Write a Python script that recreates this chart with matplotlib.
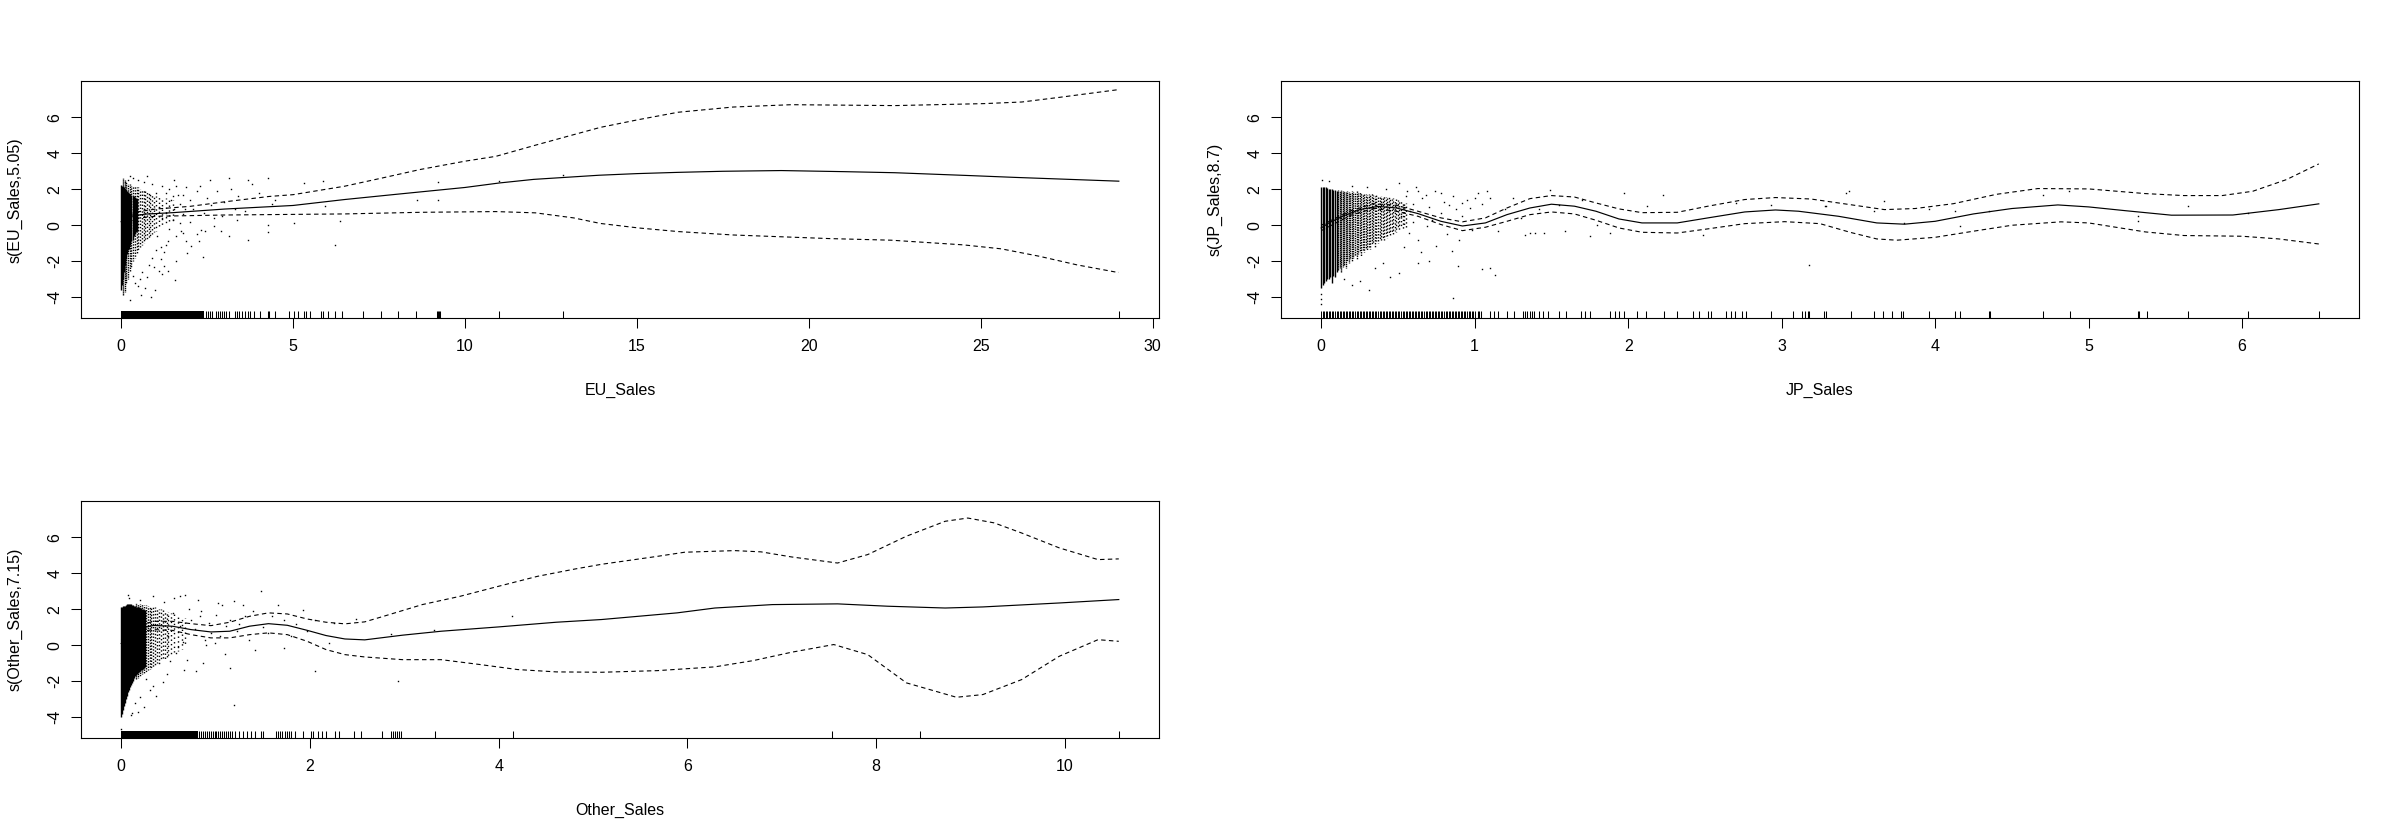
import numpy as np
import matplotlib
matplotlib.use("Agg")
import matplotlib.pyplot as plt
from matplotlib.patches import Rectangle

plt.rcParams['font.family'] = ['Liberation Sans', 'DejaVu Sans']

# ---------------- data ----------------
y_ticks = [-4, -2, 0, 2, 4, 6]

# EU panel
eu_fit_x = [0, 0.3, 0.7, 1.5, 3.0, 5.0, 6.5, 8.0, 10.0, 11.0, 12.0, 13.9, 15.0, 16.2, 17.5, 19.2, 21.0, 22.5, 24.7, 26.0, 27.3, 29.02]
eu_fit_y = [0.2, 0.5, 0.62, 0.7, 0.9, 1.1, 1.43, 1.72, 2.1, 2.35, 2.55, 2.78, 2.87, 2.94, 3.0, 3.04, 2.98, 2.92, 2.76, 2.66, 2.57, 2.45]
eu_up_x = [0, 0.5, 1.0, 2.0, 3.0, 4.3, 5.0, 6.5, 7.6, 8.7, 10.0, 10.9, 12.05, 13.0, 13.94, 15.05, 16.2, 17.8, 19.5, 22.5, 25.1, 26.2, 27.3, 29.02]
eu_up_y = [0.4, 0.75, 0.9, 1.05, 1.3, 1.6, 1.7, 2.17, 2.63, 3.1, 3.56, 3.83, 4.45, 4.95, 5.44, 5.87, 6.28, 6.57, 6.7, 6.65, 6.76, 6.85, 7.11, 7.54]
eu_lo_x = [0, 0.5, 1.0, 3.0, 6.5, 8.7, 10.9, 12.05, 13.16, 13.94, 15.05, 16.2, 17.8, 20.6, 22.4, 24.5, 25.6, 26.7, 27.8, 28.9, 29.02]
eu_lo_y = [0.0, 0.4, 0.5, 0.57, 0.63, 0.72, 0.76, 0.69, 0.41, 0.1, -0.15, -0.35, -0.54, -0.74, -0.83, -1.09, -1.31, -1.72, -2.2, -2.59, -2.62]
eu_core_x = [0.00, 0.03, 0.06, 0.09, 0.12, 0.15, 0.18, 0.21, 0.24, 0.27, 0.30, 0.33, 0.36, 0.39, 0.42, 0.45]
eu_core_lo = [-3.6, -3.3, -3.0, -2.6, -2.2, -1.9, -1.6, -1.4, -1.3, -1.1, -0.9, -0.8, -0.6, -0.5, -0.4, -0.3]
eu_core_hi = [2.25, 2.2, 2.2, 2.1, 2.0, 1.95, 1.9, 1.85, 1.8, 1.75, 1.7, 1.65, 1.6, 1.55, 1.5, 1.45]
eu_spread_x = [0.05, 0.1, 0.15, 0.2, 0.25, 0.3, 0.35, 0.4, 0.45, 0.5, 0.55, 0.6, 0.65, 0.7, 0.75, 0.8, 0.85, 0.9, 0.95, 1.0, 1.1, 1.2, 1.3, 1.4, 1.5]
eu_spread_lo = [-3.9, -3.7, -3.2, -3.0, -2.6, -2.3, -2.0, -1.8, -1.6, -1.4, -1.2, -1.1, -1.0, -0.9, -0.8, -0.7, -0.6, -0.5, -0.4, -0.3, -0.2, -0.1, 0.0, 0.1, 0.2]
eu_spread_hi = [2.6, 2.5, 2.4, 2.3, 2.3, 2.2, 2.2, 2.2, 2.1, 2.1, 2.0, 2.0, 2.0, 1.9, 1.9, 1.8, 1.8, 1.7, 1.7, 1.6, 1.6, 1.5, 1.5, 1.4, 1.4]
eu_pts_x = [0.26, 0.76, 1.54, 2.59, 3.15, 3.7, 4.26, 5.32, 5.87, 9.21, 9.23, 8.6, 12.86, 10.99, 4.26, 4.26, 5.04, 6.37, 6.21, 3.7, 2.31, 2.43, 2.37, 1.92, 1.59, 1.26, 1.09, 1.37, 1.57, 0.98, 0.87, 0.59, 0.26, 0.48, 0.7, 3.15, 3.37, 2.93, 4.48, 5.93, 1.15, 2.04, 1.81, 2.26, 2.7,
            1.2, 1.3, 1.4, 1.5, 1.6, 1.7, 1.8, 1.9, 2.0, 2.1, 2.2, 2.3, 2.5, 2.6, 2.8, 3.0, 3.2, 3.4, 3.6, 3.8, 4.0, 4.4, 1.1, 1.2, 1.3, 1.4, 1.5, 1.6, 1.7, 1.8, 1.9, 2.0, 2.2, 2.4, 2.7, 2.9, 3.3, 1.0, 1.05, 1.15, 1.25, 1.35, 1.45, 1.55, 1.65, 1.75, 1.85,
            0.6, 0.8, 0.9, 0.55, 0.4, 0.35, 1.0, 0.75, 1.2, 1.3, 0.95, 0.1, 0.2, 0.35, 0.5, 0.65, 0.9]
eu_pts_y = [2.76, 2.76, 2.54, 2.54, 2.63, 2.54, 2.63, 2.35, 2.44, 2.39, 1.43, 1.43, 2.78, 2.44, 0.04, -0.37, 0.13, 0.22, -1.07, -0.8, -0.28, -0.33, -1.76, -1.54, -2.0, -2.28, -2.56, -2.56, -3.02, -3.57, -3.98, -3.85, -4.13, -3.39, -3.48, -0.61, 0.31, 0.5, 1.43, 1.06, -1.9, -1.17, -0.43, -0.89, -0.06,
            2.2, 1.8, 2.0, 1.6, 2.2, 1.2, 1.7, 2.1, 1.4, 0.9, 1.9, 2.2, 1.5, 1.1, 1.9, 1.3, 2.0, 1.6, 0.8, 2.3, 1.8, 1.2, 1.0, 0.4, 0.7, -0.2, 0.3, -0.6, 0.1, 0.6, -0.9, 0.2, -0.5, 0.7, 0.4, -0.3, 0.9, 1.8, -0.6, -1.2, -1.5, -0.9, 1.4, 0.9, 1.7, -0.3, 0.9,
            -2.6, -2.2, -1.8, -3.0, -3.2, -2.8, -1.4, -2.9, -2.7, -1.1, -2.3, 2.4, 2.5, 2.6, 2.5, 2.4, 2.3]
eu_rug_solid_end = 2.42
eu_rug_x = [2.48, 2.54, 2.59, 2.65, 2.76, 2.82, 2.87, 2.93, 2.99, 3.04, 3.15, 3.32, 3.37, 3.43, 3.52, 3.59, 3.68, 3.76, 3.87, 4.04, 4.26, 4.31, 4.48, 4.89, 5.04, 5.15, 5.32, 5.37, 5.48, 5.8, 5.87, 6.02, 6.21, 6.41, 7.04, 7.56, 8.04, 8.58, 9.19, 9.22, 9.24, 9.27, 10.99, 12.86, 29.02]

# JP panel
jp_fit_x = [0, 0.05, 0.14, 0.25, 0.37, 0.49, 0.63, 0.78, 0.92, 1.07, 1.21, 1.36, 1.5, 1.65, 1.79, 1.94, 2.09, 2.32, 2.52, 2.76, 2.96, 3.11, 3.37, 3.62, 3.8, 4.0, 4.25, 4.5, 4.8, 5.0, 5.24, 5.54, 5.94, 6.24, 6.5]
jp_fit_y = [-0.15, 0.13, 0.5, 0.87, 1.05, 0.96, 0.65, 0.22, -0.04, 0.13, 0.59, 0.96, 1.17, 1.06, 0.78, 0.35, 0.13, 0.13, 0.41, 0.74, 0.85, 0.78, 0.5, 0.13, 0.06, 0.22, 0.63, 0.93, 1.13, 1.02, 0.81, 0.56, 0.57, 0.87, 1.19]
jp_up_x = [0, 0.19, 0.34, 0.49, 0.63, 0.78, 0.92, 1.07, 1.21, 1.36, 1.5, 1.65, 1.79, 1.94, 2.09, 2.32, 2.52, 2.76, 2.96, 3.19, 3.37, 3.67, 3.87, 4.12, 4.4, 4.67, 5.0, 5.37, 5.62, 5.87, 6.07, 6.29, 6.5]
jp_up_y = [0.0, 0.8, 1.2, 1.11, 0.78, 0.41, 0.19, 0.41, 0.96, 1.48, 1.65, 1.57, 1.24, 0.91, 0.7, 0.72, 1.06, 1.43, 1.54, 1.46, 1.24, 0.87, 0.93, 1.2, 1.72, 2.04, 2.02, 1.76, 1.65, 1.65, 1.89, 2.54, 3.41]
jp_lo_x = [0, 0.19, 0.34, 0.49, 0.63, 0.78, 0.92, 1.07, 1.21, 1.36, 1.5, 1.65, 1.79, 1.94, 2.09, 2.32, 2.52, 2.76, 3.02, 3.25, 3.45, 3.62, 3.75, 4.0, 4.25, 4.5, 4.82, 5.0, 5.37, 5.62, 6.0, 6.24, 6.5]
jp_lo_y = [-0.3, 0.55, 0.93, 0.78, 0.5, 0.04, -0.3, -0.11, 0.22, 0.59, 0.74, 0.63, 0.28, -0.15, -0.39, -0.43, -0.2, 0.09, 0.2, 0.09, -0.4, -0.76, -0.83, -0.67, -0.33, 0.0, 0.19, 0.13, -0.37, -0.57, -0.61, -0.76, -1.04]
jp_core_x = [0.00, 0.01, 0.02, 0.03, 0.04, 0.05, 0.06, 0.07, 0.08, 0.09, 0.10]
jp_core_lo = [-3.5, -3.3, -3.2, -3.1, -3.0, -3.0, -2.9, -3.2, -2.8, -2.9, -2.6]
jp_core_hi = [2.15, 2.1, 2.1, 2.1, 2.05, 2.0, 2.0, 2.0, 1.95, 1.95, 1.9]
jp_spread_x = [0.11, 0.12, 0.13, 0.14, 0.15, 0.16, 0.17, 0.18, 0.19, 0.20,
               0.21, 0.22, 0.23, 0.24, 0.25, 0.26, 0.27, 0.28, 0.29, 0.30,
               0.31, 0.32, 0.33, 0.34, 0.35, 0.36, 0.37, 0.38, 0.39, 0.40,
               0.41, 0.42, 0.43, 0.44, 0.45, 0.46, 0.47, 0.48, 0.49, 0.50, 0.51, 0.52, 0.53, 0.54, 0.55]
jp_spread_lo = [-2.5, -2.4, -2.6, -2.3, -2.2, -2.4, -2.0, -2.1, -1.9, -2.0,
                -1.8, -1.7, -1.9, -1.6, -1.5, -1.7, -1.4, -1.5, -1.3, -1.4,
                -1.2, -1.3, -1.1, -1.0, -1.2, -0.9, -1.0, -0.8, -0.9, -0.7,
                -0.8, -0.6, -0.7, -0.5, -0.6, -0.4, -0.5, -0.3, -0.4, -0.2, -0.3, -0.1, -0.2, 0.0, -0.1]
jp_spread_hi = [1.95, 1.9, 1.95, 1.9, 1.9, 1.85, 1.9, 1.85, 1.8, 1.9,
                1.85, 1.8, 1.9, 1.8, 1.85, 1.8, 1.75, 1.8, 1.75, 1.7,
                1.75, 1.7, 1.8, 1.7, 1.65, 1.7, 1.6, 1.65, 1.6, 1.55,
                1.6, 1.55, 1.5, 1.55, 1.5, 1.45, 1.5, 1.4, 1.45, 1.4, 1.35, 1.4, 1.3, 1.3, 1.25]
jp_pts_x = [0.006, 0.05, 0.51, 0.63, 0.78, 0.86, 0.92, 1.02, 1.08, 1.1, 1.49, 1.97, 2.23, 2.12, 2.7, 2.93, 3.18, 2.49, 1.88, 1.8, 1.45, 1.59, 1.36, 1.33, 1.39, 1.1, 1.13, 1.05, 0.86, 0.89, 0.85, 0.63, 0.51, 0.31, 0.4, 0.63, 0.75, 0.78, 0.92, 0.97, 0.69, 0.57, 0.98, 3.42, 3.28, 3.44, 3.67, 3.6, 3.29, 4.13, 4.16, 4.35, 4.7, 4.87, 5.32, 5.32, 5.65, 6.04, 3.8, 3.96,
            0.55, 0.6, 0.58, 0.66, 0.7, 0.72, 0.8, 0.82, 0.88, 0.9, 0.95, 0.6, 0.65, 0.7, 0.54, 0.52, 0.56, 0.62, 0.68, 0.74, 0.83, 1.0, 1.05, 1.15, 1.2, 1.25, 1.3, 1.42, 1.55, 1.7, 1.75, 0.45, 0.35, 0.2, 0.15, 0.0, 0.0, 0.0, 0.25, 0.42, 0.3, 0.2]
jp_pts_y = [2.54, 2.44, 2.35, 1.89, 1.8, 1.61, 1.24, 1.8, 1.89, 1.52, 1.98, 1.8, 1.7, 1.06, 1.24, 1.11, -2.22, -0.52, -0.43, 0.04, -0.43, -0.33, -0.43, -0.52, -0.43, -2.37, -2.74, -2.43, -4.04, -2.28, -1.44, -2.09, -2.65, -3.57, -2.09, -0.8, -1.17, 0.69, 0.5, 0.96, -0.06, -0.43, -0.24, 1.8, 1.06, 1.89, 1.37, 0.78, 1.06, 0.78, -0.06, 0.78, 1.7, 1.89, 0.5, 0.22, 1.06, 0.69, 0.13, 0.93,
            1.6, 1.2, 0.8, 1.5, 1.0, 0.3, 1.3, -0.5, 0.9, -0.8, 1.4, 0.2, -1.5, -2.0, -1.2, 0.5, 1.9, 2.1, 1.7, 1.9, 1.1, 1.5, 1.2, -0.3, 0.9, 1.5, 0.4, 0.9, 1.1, 1.4, -0.6, -2.9, -2.4, -3.3, -3.0, -4.4, -4.1, -3.8, -3.1, 2.0, 2.1, 2.2]
jp_rug_dense_hundredths = [0, 1, 2, 3, 4, 5, 6, 7, 8, 9, 10, 11, 12, 13, 14, 15, 16, 17, 18, 19, 20,
                           21, 22, 23, 24, 25, 26, 27, 28, 29, 30, 31, 32, 33, 34, 35, 36, 37, 38, 39, 40,
                           41, 42, 43, 44, 45, 46, 47, 48, 49, 50, 51, 52, 53, 54, 55, 56, 57, 58, 59, 60,
                           61, 62, 63, 64, 65, 66, 67, 68, 69, 70, 71, 72, 73, 74, 75, 76, 77, 78, 79, 80,
                           81, 82, 83, 84, 85, 86, 87, 88, 89, 90, 91, 92, 93, 94, 95, 96, 97, 98, 99, 100]
jp_rug_x = [1.024, 1.03, 1.04, 1.097, 1.126, 1.155, 1.213, 1.257, 1.315, 1.33, 1.344, 1.359, 1.373, 1.388, 1.417, 1.446, 1.475, 1.548, 1.592, 1.693, 1.722, 1.752, 1.882, 1.912, 1.94, 1.97, 2.057, 2.115, 2.232, 2.319, 2.421, 2.464, 2.523, 2.537, 2.639, 2.668, 2.697, 2.741, 2.77, 2.93, 3.075, 3.134, 3.15, 3.17, 3.177, 3.279, 3.29, 3.45, 3.6, 3.66, 3.72, 3.78, 3.79, 3.96, 4.13, 4.16, 4.35, 4.36, 4.7, 4.88, 5.32, 5.33, 5.38, 5.65, 6.04, 6.5]

# Other panel
ot_fit_x = [0, 0.05, 0.22, 0.34, 0.54, 0.74, 0.95, 1.15, 1.36, 1.56, 1.76, 1.97, 2.17, 2.37, 2.58, 2.98, 3.39, 4.0, 4.61, 5.09, 5.89, 6.29, 6.9, 7.59, 8.12, 8.73, 9.13, 9.94, 10.57]
ot_fit_y = [0.1, 0.3, 0.96, 1.1, 1.06, 0.87, 0.74, 0.78, 1.06, 1.2, 1.11, 0.83, 0.54, 0.35, 0.3, 0.56, 0.78, 1.02, 1.28, 1.43, 1.8, 2.07, 2.26, 2.3, 2.17, 2.07, 2.13, 2.35, 2.54]
ot_up_x = [0, 0.22, 0.34, 0.54, 0.74, 0.95, 1.15, 1.36, 1.56, 1.76, 1.97, 2.17, 2.37, 2.58, 2.78, 3.19, 3.59, 4.0, 4.41, 4.81, 5.09, 5.68, 5.97, 6.5, 6.78, 7.1, 7.59, 7.91, 8.32, 8.73, 8.97, 9.25, 9.54, 9.94, 10.35, 10.57]
ot_up_y = [0.3, 1.15, 1.33, 1.33, 1.2, 1.09, 1.28, 1.61, 1.8, 1.74, 1.46, 1.28, 1.19, 1.3, 1.61, 2.26, 2.72, 3.28, 3.83, 4.24, 4.5, 4.94, 5.17, 5.26, 5.19, 4.91, 4.57, 5.04, 6.06, 6.89, 7.07, 6.8, 6.24, 5.41, 4.76, 4.8]
ot_lo_x = [0, 0.22, 0.34, 0.54, 0.74, 0.95, 1.15, 1.36, 1.56, 1.76, 1.97, 2.17, 2.37, 2.58, 2.98, 3.39, 3.8, 4.2, 4.61, 5.09, 5.68, 6.29, 6.7, 7.1, 7.55, 7.91, 8.32, 8.85, 9.13, 9.54, 9.94, 10.35, 10.57]
ot_lo_y = [-0.1, 0.77, 0.87, 0.83, 0.59, 0.41, 0.41, 0.59, 0.69, 0.59, 0.22, -0.24, -0.52, -0.65, -0.8, -0.8, -1.07, -1.35, -1.48, -1.5, -1.41, -1.2, -0.85, -0.39, 0.04, -0.52, -2.09, -2.89, -2.74, -1.91, -0.61, 0.31, 0.22]
ot_core_x = [0.00, 0.01, 0.02, 0.03, 0.04, 0.05, 0.06, 0.07, 0.08, 0.09, 0.10, 0.11, 0.12, 0.13, 0.14, 0.15,
             0.16, 0.17, 0.18, 0.19, 0.20, 0.21, 0.22, 0.23, 0.24, 0.25]
ot_core_lo = [-4.0, -3.8, -3.6, -3.4, -3.2, -3.0, -2.8, -2.6, -2.5, -2.3, -2.2, -2.1, -2.0, -1.9, -1.8, -1.7,
              -1.65, -1.6, -1.55, -1.5, -1.45, -1.4, -1.35, -1.3, -1.25, -1.2]
ot_core_hi = [2.15, 2.15, 2.2, 2.2, 2.2, 2.25, 2.3, 2.3, 2.3, 2.3, 2.3, 2.25, 2.25, 2.2, 2.2, 2.2,
              2.15, 2.15, 2.1, 2.1, 2.05, 2.05, 2.0, 2.0, 1.95, 1.95]
ot_spread_x = [0.16, 0.18, 0.20, 0.22, 0.24, 0.26, 0.28, 0.30, 0.32, 0.34, 0.36, 0.38, 0.40, 0.42, 0.44, 0.46, 0.48, 0.50, 0.53, 0.56, 0.60, 0.64, 0.68]
ot_spread_lo = [-1.9, -1.8, -1.7, -1.6, -1.6, -1.5, -1.4, -1.3, -1.3, -1.2, -1.1, -1.0, -1.0, -0.9, -0.8, -0.8, -0.7, -0.6, -0.5, -0.4, -0.3, -0.2, -0.1]
ot_spread_hi = [2.35, 2.3, 2.3, 2.3, 2.25, 2.25, 2.2, 2.2, 2.15, 2.1, 2.1, 2.05, 2.0, 2.0, 1.95, 1.9, 1.9, 1.85, 1.8, 1.75, 1.7, 1.6, 1.5]
ot_pts_x = [0.07, 0.34, 0.56, 0.62, 0.68, 0.81, 1.03, 1.07, 1.19, 1.29, 1.48, 1.66, 1.93, 1.15, 1.31, 1.72, 2.05, 2.25, 2.49, 2.86, 3.31, 4.14, 1.72, 1.42, 0.99, 0.89, 0.7, 0.66, 0.79, 0.87, 1.15, 2.05, 2.93, 1.19, 0.44, 0.37, 0.24, 0.11, 0.34, 0.26, 0.58, 0.5, 0.62, 0.74, 0.83, 0.93, 1.11, 0.95, 1.23, 1.56, 1.8, 1.97, 0.0,
            0.72, 0.78, 0.85, 0.9, 1.0, 1.05, 1.1, 1.25, 1.35, 1.4, 1.5, 0.65, 0.55, 0.6, 0.52, 0.48, 0.4, 0.3, 0.2, 0.15, 0.18, 0.1, 0.08, 0.2, 0.45, 1.6, 1.85, 2.2]
ot_pts_y = [2.81, 2.72, 2.63, 2.72, 2.81, 2.54, 2.35, 2.26, 2.44, 2.26, 3.04, 2.26, 1.98, 1.43, 1.61, 1.43, 1.43, 1.24, 1.46, 0.65, 0.87, 1.61, -0.15, -0.28, 0.13, 0.31, -0.8, -1.35, -1.44, -0.98, -1.26, -1.44, -1.98, -3.3, -2.04, -2.8, -3.44, -3.76, -2.28, -1.9, -0.43, 0.5, 1.06, 1.43, 1.61, 1.24, 1.06, 0.69, 0.78, 0.69, 0.5, 0.78, -4.65,
            2.0, 0.9, 1.9, 0.0, 1.7, 0.5, -0.5, 1.2, 0.3, 1.9, 1.0, 0.2, 1.8, -0.1, -0.9, -1.6, -1.0, -2.5, -2.9, -3.2, -3.7, -3.9, 2.6, 2.5, 2.4, 1.6, 1.2, 0.1]
ot_rug_solid_end = 0.81
ot_rug_x = [0.826, 0.847, 0.867, 0.887, 0.908, 0.928, 0.948, 0.969, 0.989, 1.009, 1.03, 1.05, 1.07, 1.09, 1.11, 1.13, 1.15, 1.17, 1.21, 1.25, 1.29, 1.33, 1.38, 1.42, 1.48, 1.5, 1.64, 1.66, 1.68, 1.70, 1.74, 1.76, 1.78, 1.8, 1.84, 1.93, 2.01, 2.03, 2.09, 2.13, 2.17, 2.27, 2.31, 2.47, 2.54, 2.76, 2.86, 2.88, 2.9, 2.92, 2.94, 2.96, 3.32, 4.15, 7.53, 8.46, 10.57]

# ---------------- layout ----------------
W, H = 2400, 840
fig = plt.figure(figsize=(24, 8.4), dpi=100)
PW, PH = 1077.4, 237.0
FS = 11.5


def make_axes(left_px, top_px):
    return fig.add_axes([left_px / W, 1 - (top_px + PH) / H, PW / W, PH / H])


def draw_panel(ax, fit_x, fit_y, up_x, up_y, lo_x, lo_y,
               core_x, core_lo, core_hi, spread_x, spread_lo, spread_hi,
               pts_x, pts_y, rug_x, rug_solid_end, dense_rug, xlim, xticks,
               xlabel, ylabel, gap0, gap1, spread_lw):
    # dense residual columns
    ax.vlines(core_x, core_lo, core_hi, colors='k', lw=1.0)
    n = len(spread_x)
    styles = []
    for i in range(n):
        gap = gap0 + (gap1 - gap0) * i / max(n - 1, 1)
        styles.append(((i * 0.7) % (1 + gap), (1.0, gap)))
    ax.vlines(spread_x, spread_lo, spread_hi, colors='k', lw=spread_lw, linestyles=styles)
    ax.plot(pts_x, pts_y, linestyle='none', marker='s', ms=1.0, mew=0, color='k')
    # fitted smooth and bands
    ax.plot(fit_x, fit_y, color='k', lw=0.85)
    ax.plot(up_x, up_y, color='k', lw=0.8, dashes=(4.0, 3.0))
    ax.plot(lo_x, lo_y, color='k', lw=0.8, dashes=(4.0, 3.0))
    # rug
    tr = ax.get_xaxis_transform()
    if rug_solid_end is not None:
        ax.add_patch(Rectangle((0, 0), rug_solid_end, 0.03, transform=tr,
                               facecolor='k', edgecolor='none'))
    if dense_rug is not None:
        ax.vlines(dense_rug, 0, 0.03, transform=tr, colors='k', lw=0.7)
    ax.vlines(rug_x, 0, 0.03, transform=tr, colors='k', lw=0.75)

    ax.set_xlim(*xlim)
    ax.set_ylim(-5.17, 8.0)
    ax.set_xticks(xticks)
    ax.set_xticklabels([str(t) for t in xticks], fontsize=FS)
    ax.set_yticks(y_ticks)
    ax.set_yticklabels([str(t) for t in y_ticks], fontsize=FS, rotation=90, va='center')
    ax.tick_params(axis='both', direction='out', length=7.2, width=0.75, color='k')
    ax.tick_params(axis='x', pad=8.0)
    ax.tick_params(axis='y', pad=6.5)
    for s in ax.spines.values():
        s.set_linewidth(0.8)
        s.set_color('k')
    ax.set_xlabel(xlabel, fontsize=FS)
    ax.xaxis.set_label_coords(0.5, -71.7 / PH)
    ax.xaxis.label.set_va('center')
    ax.set_ylabel(ylabel, fontsize=FS)
    ax.yaxis.set_label_coords(-65.8 / PW, 0.5)
    ax.yaxis.label.set_va('center')


ax1 = make_axes(81.3, 81.3)
ax2 = make_axes(1281.3, 81.3)
ax3 = make_axes(81.3, 501.3)

draw_panel(ax1, eu_fit_x, eu_fit_y, eu_up_x, eu_up_y, eu_lo_x, eu_lo_y,
           eu_core_x, eu_core_lo, eu_core_hi, eu_spread_x, eu_spread_lo, eu_spread_hi,
           eu_pts_x, eu_pts_y, eu_rug_x, eu_rug_solid_end, None,
           (-1.16, 30.18), [0, 5, 10, 15, 20, 25, 30], 'EU_Sales', 's(EU_Sales,5.05)',
           0.4, 2.6, 1.0)

draw_panel(ax2, jp_fit_x, jp_fit_y, jp_up_x, jp_up_y, jp_lo_x, jp_lo_y,
           jp_core_x, jp_core_lo, jp_core_hi, jp_spread_x, jp_spread_lo, jp_spread_hi,
           jp_pts_x, jp_pts_y, jp_rug_x, None, [h / 100 for h in jp_rug_dense_hundredths],
           (-0.26, 6.76), [0, 1, 2, 3, 4, 5, 6], 'JP_Sales', 's(JP_Sales,8.7)',
           0.3, 1.8, 1.0)

draw_panel(ax3, ot_fit_x, ot_fit_y, ot_up_x, ot_up_y, ot_lo_x, ot_lo_y,
           ot_core_x, ot_core_lo, ot_core_hi, ot_spread_x, ot_spread_lo, ot_spread_hi,
           ot_pts_x, ot_pts_y, ot_rug_x, ot_rug_solid_end, None,
           (-0.423, 10.993), [0, 2, 4, 6, 8, 10], 'Other_Sales', 's(Other_Sales,7.15)',
           0.4, 2.6, 1.0)

fig.savefig('out.png', dpi=100, facecolor='white')
